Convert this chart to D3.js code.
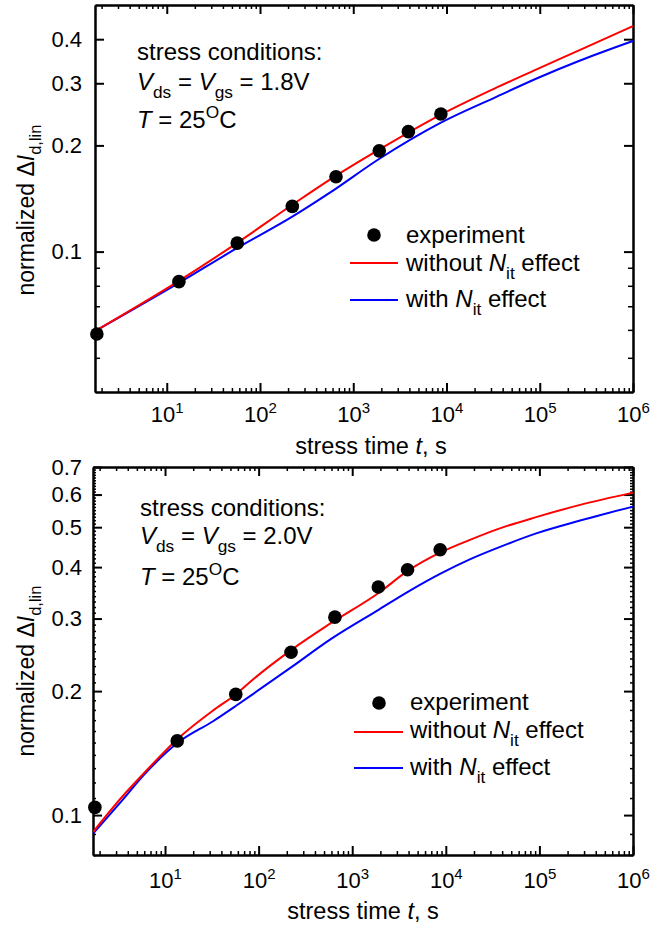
<!DOCTYPE html>
<html>
<head>
<meta charset="utf-8">
<script src="https://cdn.jsdelivr.net/npm/d3@7"></script>
<style>
  body { margin: 0; background: #fff; }
  svg { font-family: "Liberation Sans", Arial, sans-serif; }
  .axis path, .axis line { stroke: #000; stroke-width: 2; }
  .minor line { stroke-width: 1.5; }
  .axis text { font-size: 22px; fill: #000; font-family: "Liberation Sans", Arial, sans-serif; }
</style>
</head>
<body>
<svg width="671" height="931"></svg>
<script>
// experiment: stress times and normalized dId,lin
var expTime = [1.78, 13.5, 57, 222, 653, 1900, 3900, 8700];
var exp18 = [0.0584, 0.0822, 0.1057, 0.1343, 0.163, 0.193, 0.2188, 0.2455];
var exp20 = [0.1044, 0.1514, 0.1964, 0.2485, 0.3024, 0.3579, 0.394, 0.4406];

// model curves, Vds = Vgs = 1.8V
var fitTime18 = [1.72, 13.5, 57, 222, 562, 1890, 8710, 34700, 93800, 271000, 1e6];
var noNit18 = [0.0596, 0.0826, 0.1059, 0.1358, 0.160, 0.1945, 0.2445, 0.292, 0.329, 0.373, 0.4356];
var withNit18 = [0.0596, 0.0815, 0.1024, 0.1256, 0.1469, 0.183, 0.232, 0.275, 0.31, 0.348, 0.3953];

// model curves, Vds = Vgs = 2.0V
var fitTime20 = [1.72, 3.56, 5.82, 13.8, 32.6, 56.9, 87, 226, 579, 1930, 3850, 8670, 17800, 35200, 94200, 272000, 1e6];
var noNit20 = [0.0912, 0.1114, 0.1257, 0.1535, 0.1795, 0.1963, 0.2134, 0.2522, 0.2915, 0.3466, 0.3904, 0.4335, 0.465, 0.494, 0.5297, 0.5664, 0.6066];
var withNit20 = [0.0904, 0.1092, 0.1245, 0.150, 0.169, 0.184, 0.1967, 0.229, 0.2667, 0.3155, 0.3473, 0.385, 0.417, 0.4447, 0.4836, 0.5188, 0.561];

var xMajor = [10, 100, 1e3, 1e4, 1e5, 1e6];
var yMajor18 = [0.1, 0.2, 0.3, 0.4];
var yMinor18 = [0.05, 0.06, 0.07, 0.08, 0.09];
var yMajor20 = [0.1, 0.2, 0.3, 0.4, 0.5, 0.6, 0.7];

var svg = d3.select("svg");

// rich text helper: parts like {t:"V", i:true}, {t:"ds", sub:true}
function rich(sel, parts, fs) {
  var shift = 0;
  parts.forEach(function(p) {
    var target = p.sub ? fs * 0.32 : p.sup ? -fs * 0.42 : 0;
    var ts = sel.append("tspan").attr("dy", target - shift).text(p.t);
    shift = target;
    if (p.sub || p.sup) ts.attr("font-size", fs * 0.72);
    if (p.i) ts.attr("font-style", "italic");
  });
}

function xMinorTicks() {
  var out = [];
  for (var e = 0; e < 6; e++)
    for (var k = 2; k <= 9; k++) {
      var v = k * Math.pow(10, e);
      if (v >= 1.7 && v < 1e6) out.push(v);
    }
  return out;
}

function yMinor20() {
  var out = [];
  for (var i = 8; i <= 70; i++) if (i % 10 !== 0) out.push(i / 100);
  return out;
}

function panel(cfg) {
  var x = d3.scaleLog().domain([1.7, 1e6]).range([cfg.left, cfg.right]);
  var y = d3.scaleLog().domain(cfg.yDomain).range([cfg.bottom, cfg.top]);
  var g = svg.append("g");

  // minor ticks
  g.append("g").attr("class", "axis minor").attr("transform", "translate(0," + cfg.bottom + ")")
    .call(d3.axisBottom(x).tickValues(xMinorTicks()).tickSize(-4).tickSizeOuter(0).tickFormat(""));
  g.append("g").attr("class", "axis minor").attr("transform", "translate(0," + cfg.top + ")")
    .call(d3.axisTop(x).tickValues(xMinorTicks()).tickSize(-4).tickSizeOuter(0).tickFormat(""));
  g.append("g").attr("class", "axis minor").attr("transform", "translate(" + cfg.left + ",0)")
    .call(d3.axisLeft(y).tickValues(cfg.yMinor).tickSize(-cfg.yMinorLen).tickSizeOuter(0).tickFormat(""));
  g.append("g").attr("class", "axis minor").attr("transform", "translate(" + cfg.right + ",0)")
    .call(d3.axisRight(y).tickValues(cfg.yMinor).tickSize(-cfg.yMinorLen).tickSizeOuter(0).tickFormat(""));

  // major ticks
  var xb = g.append("g").attr("class", "axis").attr("transform", "translate(0," + cfg.bottom + ")")
    .call(d3.axisBottom(x).tickValues(xMajor).tickSize(-9).tickSizeOuter(0).tickPadding(cfg.xPad));
  xb.selectAll(".tick text").text("").each(function(d) {
    var t = d3.select(this);
    t.append("tspan").text("10");
    t.append("tspan").attr("dy", -9).attr("font-size", 15).text(Math.round(Math.log10(d)));
  });
  g.append("g").attr("class", "axis").attr("transform", "translate(0," + cfg.top + ")")
    .call(d3.axisTop(x).tickValues(xMajor).tickSize(-9).tickSizeOuter(0).tickFormat(""));
  g.append("g").attr("class", "axis").attr("transform", "translate(" + cfg.left + ",0)")
    .call(d3.axisLeft(y).tickValues(cfg.yMajor).tickSize(-9).tickSizeOuter(0).tickPadding(cfg.left - 82)
      .tickFormat(d3.format(".1f")));
  g.append("g").attr("class", "axis").attr("transform", "translate(" + cfg.right + ",0)")
    .call(d3.axisRight(y).tickValues(cfg.yMajor).tickSize(-9).tickSizeOuter(0).tickFormat(""));

  var line = d3.line().x(function(d) { return x(d[0]); }).y(function(d) { return y(d[1]); })
    .curve(d3.curveMonotoneX);

  g.append("path").datum(d3.zip(cfg.fitTime, cfg.withNit)).attr("d", line)
    .attr("fill", "none").attr("stroke", "#0000ff").attr("stroke-width", 2);
  g.append("path").datum(d3.zip(cfg.fitTime, cfg.noNit)).attr("d", line)
    .attr("fill", "none").attr("stroke", "#ff0000").attr("stroke-width", 2);

  g.selectAll(".pt").data(d3.zip(expTime, cfg.exp)).enter()
    .append("circle").attr("class", "pt")
    .attr("cx", function(d) { return x(d[0]); })
    .attr("cy", function(d) { return y(d[1]); })
    .attr("r", 6.8).attr("fill", "#000");

  // stress conditions
  var a = cfg.note;
  var fs = 24;
  g.append("text").attr("x", a.x).attr("y", a.y[0]).attr("font-size", fs).text("stress conditions:");
  rich(g.append("text").attr("x", a.x).attr("y", a.y[1]).attr("font-size", fs),
    [{t: "V", i: true}, {t: "ds", sub: true}, {t: " = "}, {t: "V", i: true}, {t: "gs", sub: true},
     {t: " = " + cfg.volt}], fs);
  rich(g.append("text").attr("x", a.x).attr("y", a.y[2]).attr("font-size", fs),
    [{t: "T", i: true}, {t: " = 25"}, {t: "O", sup: true}, {t: "C"}], fs);

  // legend
  var L = cfg.legend;
  g.append("circle").attr("cx", L.mx).attr("cy", L.my).attr("r", 6.8).attr("fill", "#000");
  g.append("text").attr("x", L.tx).attr("y", L.ty[0]).attr("font-size", fs).text("experiment");
  [["#ff0000", "without "], ["#0000ff", "with "]].forEach(function(s, i) {
    g.append("line").attr("x1", L.l1).attr("x2", L.l2).attr("y1", L.ly[i]).attr("y2", L.ly[i])
      .attr("stroke", s[0]).attr("stroke-width", 2);
    rich(g.append("text").attr("x", L.tx).attr("y", L.ty[i + 1]).attr("font-size", fs),
      [{t: s[1]}, {t: "N", i: true}, {t: "it", sub: true}, {t: " effect"}], fs);
  });

  // axis titles
  rich(g.append("text").attr("text-anchor", "middle").attr("font-size", 23)
      .attr("transform", "translate(" + 34 + "," + cfg.yTitle + ") rotate(-90)"),
    [{t: "normalized Δ"}, {t: "I", i: true}, {t: "d,lin", sub: true}], 23);
  rich(g.append("text").attr("text-anchor", "middle").attr("font-size", 23.5)
      .attr("x", cfg.xTitle[0]).attr("y", cfg.xTitle[1]),
    [{t: "stress time "}, {t: "t", i: true}, {t: ", s"}], 23.5);
}

panel({
  left: 95, right: 633, top: 5, bottom: 392, xPad: 14,
  yDomain: [0.04, 0.5], yMajor: yMajor18, yMinor: yMinor18, yMinorLen: 5,
  fitTime: fitTime18, noNit: noNit18, withNit: withNit18, exp: exp18, volt: "1.8V",
  note: {x: 137, y: [60, 90, 128]},
  legend: {mx: 374, my: 235, tx: 406, ty: [243, 271, 307], l1: 350, l2: 398, ly: [263, 300]},
  yTitle: 210, xTitle: [371, 454]
});

panel({
  left: 93, right: 633, top: 467, bottom: 855, xPad: 17,
  yDomain: [0.08, 0.7], yMajor: yMajor20, yMinor: yMinor20(), yMinorLen: 3,
  fitTime: fitTime20, noNit: noNit20, withNit: withNit20, exp: exp20, volt: "2.0V",
  note: {x: 140, y: [516, 544, 585]},
  legend: {mx: 379, my: 703, tx: 410, ty: [710, 738, 775], l1: 354, l2: 403, ly: [732, 768]},
  yTitle: 671, xTitle: [363, 919]
});
</script>
</body>
</html>
